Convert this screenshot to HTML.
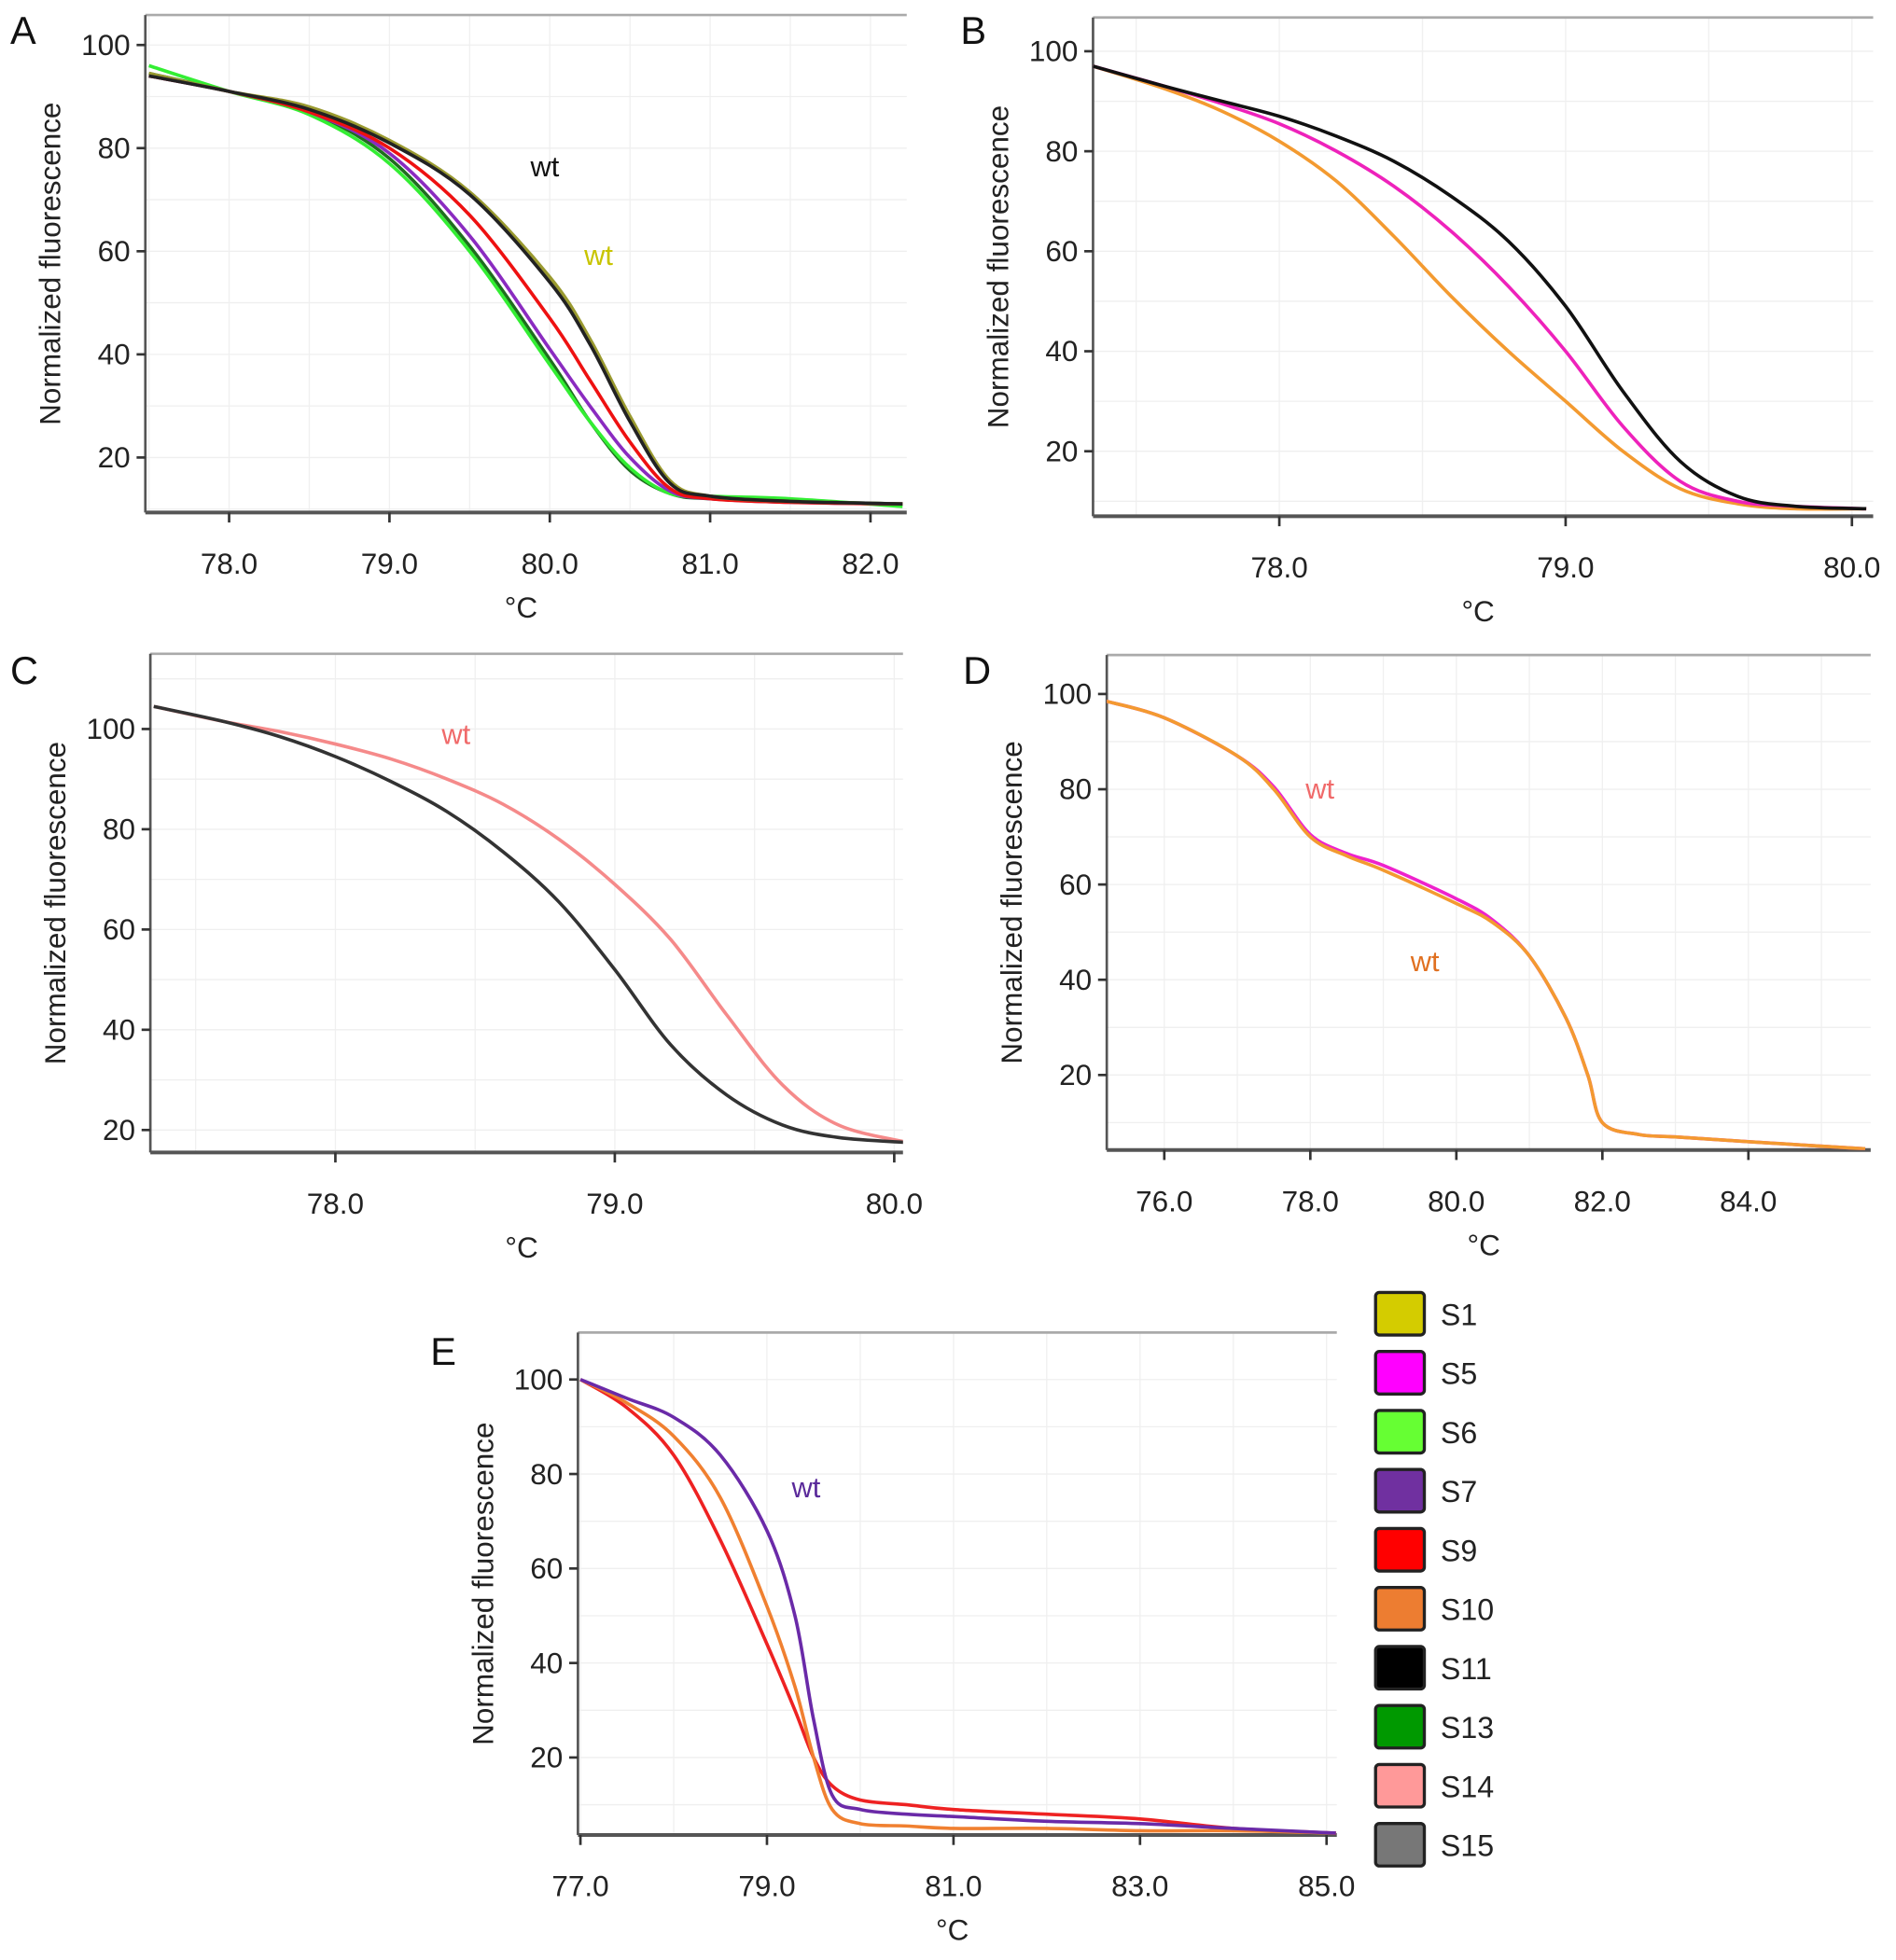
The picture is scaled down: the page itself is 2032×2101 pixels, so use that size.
<!DOCTYPE html>
<html><head><meta charset="utf-8"><style>
html,body{margin:0;padding:0;background:#fff;}
svg{display:block;font-family:"Liberation Sans",sans-serif;}
</style></head><body>
<svg id="fig" width="2032" height="2101" viewBox="0 0 1516 1568" xmlns="http://www.w3.org/2000/svg"></svg>
<script>
// ---------- Panel A data ----------
const xA = [77.5,78,78.5,79,79.5,80,80.25,80.5,80.75,81,81.5,82.2];
const aS11 = [94,91,87.5,81,71,54,42,27,15,12.5,11.5,11];
const aS1  = [94.5,91,88,81.5,71.5,55,43,28,15.5,12.5,11.5,11];
const aS9  = [94,91,87,80,67,47,35,23,14,12,11.3,11];
const aS7  = [94,91,87,79,63,41,30,20,13.5,12,11.3,11];
const aS6  = [96,91,86.5,77,60,38,27,18,13,12.5,12,10.5];
const aS13 = [94.5,91,87,78,61,39,27,17.5,13,12,11.5,11];
const xTicksA = [78,79,80,81,82];
const yTicksA = [20,40,60,80,100];
// ---------- Panel B data ----------
const xB = [77.35,77.6,77.8,78,78.2,78.4,78.6,78.8,79,79.2,79.4,79.6,79.8,80.05];
const bS11 = [97,93,90,87,83,78,71,62,49,32,18,11,9,8.5];
const bS5  = [97,93,89.5,85.5,80,73,64,53,40,25,14,10,9,8.5];
const bS10 = [97,92.5,88,82,74,63,51,40,30,20,12.5,9.5,8.5,8.5];
const xTicksB = [78,79,80];
const yTicksB = [20,40,60,80,100];
// ---------- Panel C data ----------
const xC = [77.35,77.6,77.8,78,78.2,78.4,78.6,78.8,79,79.2,79.4,79.6,79.8,80.05];
const cS11 = [104.5,101.5,98.5,94.5,89.5,83.5,75.5,65.5,52,37,27,21,18.5,17.5];
const cS14 = [104.5,101.5,99.5,97,94,90,85,78,69,58,43,29,21,17.5];
const xTicksC = [78,79,80];
const yTicksC = [20,40,60,80,100];
// ---------- Panel D data ----------
const xD = [75.2,76,77,77.5,78,78.5,79,80,80.5,81,81.5,81.8,82,82.5,83,84,85.6];
const dS10 = [98.5,95,87,80,70,66,63,56,52,45,32,20,10,7.5,7,6,4.5];
const dS5  = [98.5,95,87,80.5,70.5,66.5,64,57,52.5,45,32,20,10,7.5,7,6,4.5];
const xTicksD = [76,78,80,82,84];
const yTicksD = [20,40,60,80,100];
// ---------- Panel E data ----------
const xE = [77,77.5,78,78.5,79,79.3,79.5,79.7,80,80.5,81,82,83,84,85.1];
const eS7  = [100,96,92,84,68,50,28,12,9,8,7.5,6.5,6,5,4];
const eS10 = [100,95,88,75,52,35,20,9,6,5.5,5,5,4.5,4.5,4];
const eS9  = [100,94,84,66,44,30,20,14,11,10,9,8,7,5,4];
const xTicksE = [77,79,81,83,85];
const yTicksE = [20,40,60,80,100];
// ---------- Legend ----------
const legendNames = ["S1","S5","S6","S7","S9","S10","S11","S13","S14","S15"];
const legendColors = ["#d4cc00","#ff00ff","#66ff33","#7030a0","#ff0000","#ed7d31","#000000","#009900","#ff9999","#777777"];

const NS="http://www.w3.org/2000/svg";
const svg=document.getElementById('fig');
function mk(tag,attrs,parent){const e=document.createElementNS(NS,tag);for(const k in attrs)e.setAttribute(k,attrs[k]);(parent||svg).appendChild(e);return e;}

function smoothPath(pts){
  let d=`M${pts[0][0]},${pts[0][1]}`;
  for(let i=0;i<pts.length-1;i++){
    const p0=pts[Math.max(0,i-1)],p1=pts[i],p2=pts[i+1],p3=pts[Math.min(pts.length-1,i+2)];
    const c1x=p1[0]+(p2[0]-p0[0])/6,c1y=p1[1]+(p2[1]-p0[1])/6;
    const c2x=p2[0]-(p3[0]-p1[0])/6,c2y=p2[1]-(p3[1]-p1[1])/6;
    d+=` C${c1x},${c1y} ${c2x},${c2y} ${p2[0]},${p2[1]}`;
  }
  return d;
}

function panel(cfg){
  const g=mk('g',{});
  
  
  const {L,R,T,B}=cfg;
  const sx=v=>cfg.px0+(v-cfg.vx0)*cfg.kx;
  const sy=v=>cfg.py0-(v-cfg.vy0)*cfg.ky;
  const grid=mk('g',{},g);
  
  
  const xs=cfg.xTicks, step=xs[1]-xs[0];
  for(let v=xs[0]-step*3;v<=xs[xs.length-1]+step*3;v+=step/2){
    const x=sx(v); if(x<=L||x>=R)continue;
    mk('line',{x1:x,x2:x,y1:T,y2:B,stroke:'#f0f0f0','stroke-width':1},grid);
  }
  for(let v=0;v<=120;v+=10){
    const y=sy(v); if(y<=T||y>=B)continue;
    mk('line',{x1:L,x2:R,y1:y,y2:y,stroke:'#efefef','stroke-width':1},grid);
  }
  mk('line',{x1:L,x2:R,y1:T,y2:T,stroke:'#aaa','stroke-width':2},g);
  const ax=mk('line',{x1:L,x2:L,y1:T,y2:B,stroke:'#555','stroke-width':2},g);
  
  const bx=mk('line',{x1:L,x2:R,y1:B,y2:B,stroke:'#555','stroke-width':3},g);
  
  cfg.xTicks.forEach(v=>{const x=sx(v);
    mk('line',{x1:x,x2:x,y1:B,y2:B+8,stroke:'#333','stroke-width':2},g);
    const t=mk('text',{x:x,y:B+49,'font-size':23.5,'text-anchor':'middle',fill:'#222'},g);
    t.textContent=v.toFixed(1);
    });
  cfg.yTicks.forEach(v=>{const y=sy(v);
    mk('line',{x1:L-7,x2:L,y1:y,y2:y,stroke:'#333','stroke-width':2},g);
    const t=mk('text',{x:L-12,y:y+8,'font-size':23.5,'text-anchor':'end',fill:'#222'},g);
    t.textContent=v;
    });
  const yt=mk('text',{x:0,y:0,'font-size':23.5,'text-anchor':'middle',fill:'#222',transform:`translate(${L-68},${(T+B)/2}) rotate(-90)`},g);
  yt.textContent='Normalized fluorescence';
  
  const xt=mk('text',{x:(L+R)/2-4,y:B+84,'font-size':23.5,'text-anchor':'middle',fill:'#222'},g);
  xt.textContent='°C';
  
  const pl=mk('text',{x:cfg.lx,y:cfg.ly,'font-size':31,fill:'#111'},g);
  pl.textContent=cfg.id;
  
  const clipId='clip'+cfg.id;
  const cp=mk('clipPath',{id:clipId},g);
  mk('rect',{x:L,y:T,width:R-L,height:B-T},cp);
  const sg=mk('g',{'clip-path':`url(#${clipId})`},g);
  cfg.series.forEach(s=>{
    const pts=cfg.x.map((v,i)=>[sx(v),sy(s.vals[i])]);
    const p=mk('path',{d:smoothPath(pts),fill:'none',stroke:s.color,'stroke-width':2.7},sg);
    
    
  });
  cfg.labels.forEach(l=>{
    const t=mk('text',{x:l.x,y:l.y,'font-size':23,fill:l.c},g);
    t.textContent='wt';
    
  });
}

panel({id:'A',L:116,R:725,T:12,B:410,px0:183,vx0:78,kx:128.25,py0:366,vy0:20,ky:4.125,lx:8,ly:35,
  xTicks:xTicksA,yTicks:yTicksA,x:xA,
  series:[{name:'S13',vals:aS13,color:'#1e6e1e'},{name:'S6',vals:aS6,color:'#33ee33'},{name:'S7',vals:aS7,color:'#8a2bc0'},
          {name:'S9',vals:aS9,color:'#ee1111'},{name:'S1',vals:aS1,color:'#9a9a30'},{name:'S11',vals:aS11,color:'#222'}],
  labels:[{x:424,y:141,c:'#111'},{x:467,y:212,c:'#c8c400'}]});
panel({id:'B',L:874,R:1498,T:14,B:413,px0:1023,vx0:78,kx:229,py0:361,vy0:20,ky:4,lx:768,ly:35,
  xTicks:xTicksB,yTicks:yTicksB,x:xB,
  series:[{name:'S10',vals:bS10,color:'#f39a30'},{name:'S5',vals:bS5,color:'#ee22bb'},{name:'S11',vals:bS11,color:'#111'}],
  labels:[]});
panel({id:'C',L:120,R:722,T:523,B:922,px0:268,vx0:78,kx:223.5,py0:904,vy0:20,ky:4.01,lx:8,ly:547,
  xTicks:xTicksC,yTicks:yTicksC,x:xC,
  series:[{name:'S14',vals:cS14,color:'#f58a8a'},{name:'S11',vals:cS11,color:'#333'}],
  labels:[{x:353,y:595,c:'#f06a6a'}]});
panel({id:'D',L:885,R:1496,T:524,B:920,px0:931,vx0:76,kx:58.4,py0:860,vy0:20,ky:3.81,lx:770,ly:547,
  xTicks:xTicksD,yTicks:yTicksD,x:xD,
  series:[{name:'S5',vals:dS5,color:'#ee22cc'},{name:'S10',vals:dS10,color:'#f39a30'}],
  labels:[{x:1044,y:639,c:'#f06a6a'},{x:1128,y:777,c:'#e07020'}]});
panel({id:'E',L:462,R:1069,T:1066,B:1468,px0:464,vx0:77,kx:74.6,py0:1406,vy0:20,ky:3.78,lx:344,ly:1092,
  xTicks:xTicksE,yTicks:yTicksE,x:xE,
  series:[{name:'S9',vals:eS9,color:'#ee2222'},{name:'S10',vals:eS10,color:'#f08030'},{name:'S7',vals:eS7,color:'#6a2aa8'}],
  labels:[{x:633,y:1198,c:'#5a2a9a'}]});

const lg=mk('g',{});


legendNames.forEach((n,i)=>{
  const e=mk('g',{},lg);
  
  
  const y=1051+i*47.2;
  mk('rect',{x:1100,y:y-17,width:39,height:34,rx:3,fill:legendColors[i],stroke:'#222','stroke-width':2.5},e);
  const t=mk('text',{x:1152,y:y+9,'font-size':24,fill:'#222'},e);
  t.textContent=n;
});
</script>
</body></html>
